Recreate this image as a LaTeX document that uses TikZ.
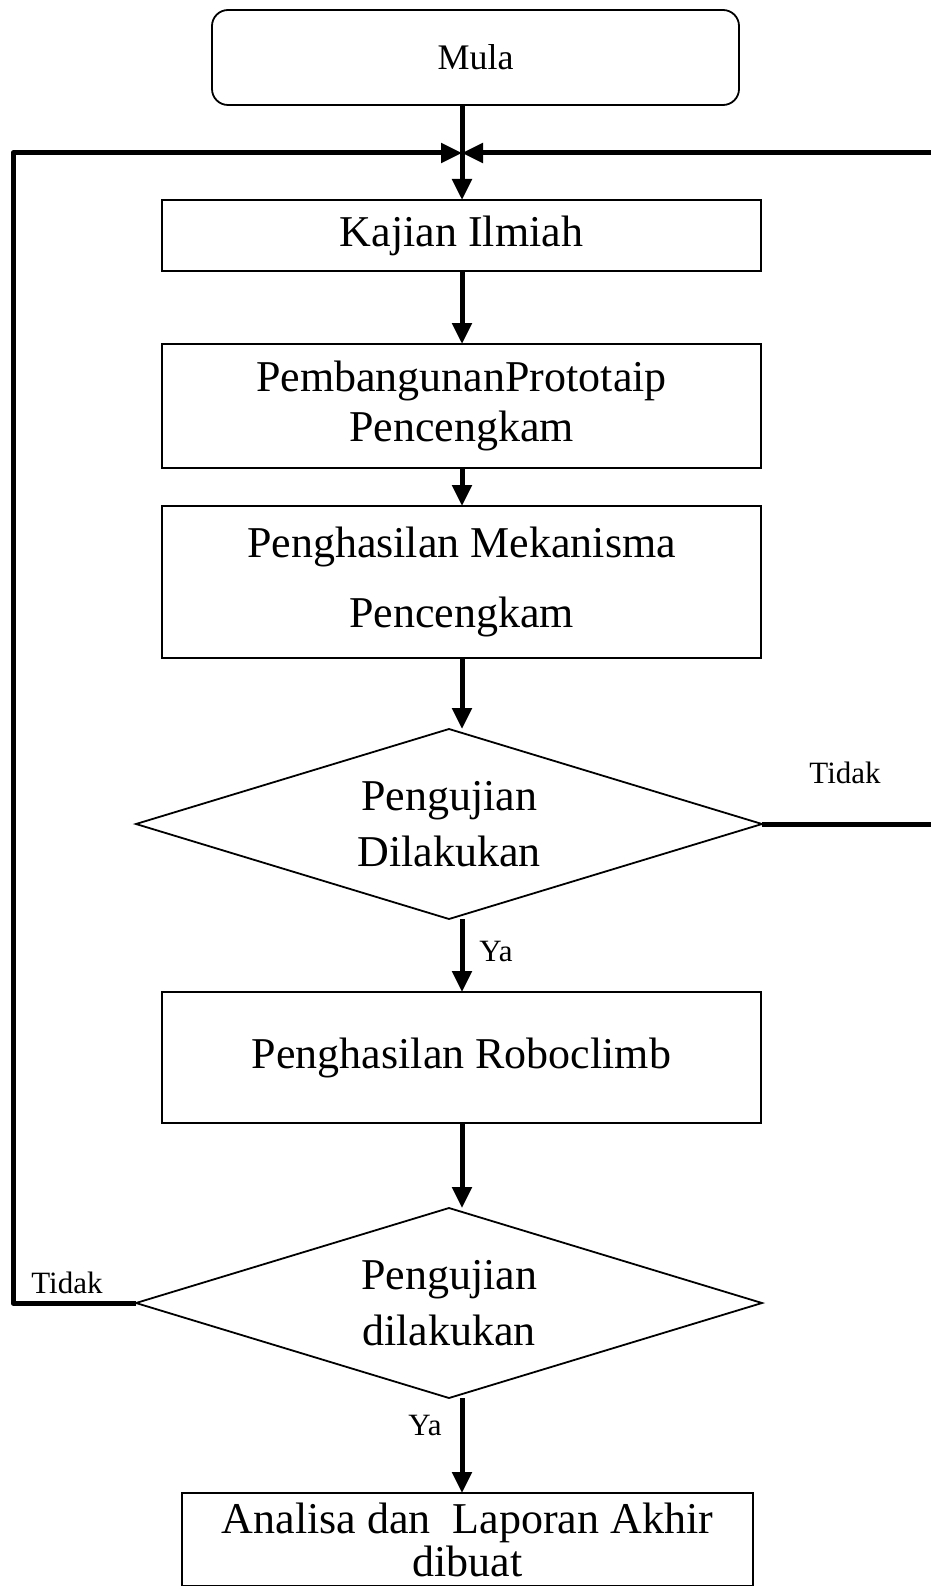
\documentclass[tikz,border=0pt]{standalone}
\usepackage{fontspec}
\setmainfont{Liberation Serif}
\usetikzlibrary{arrows.meta,shapes.geometric}
\begin{document}
\begin{tikzpicture}[x=1pt,y=-1pt,
  box/.style={draw,line width=1.8pt,inner sep=0pt,outer sep=0pt,align=center,font=\fontsize{44}{50}\selectfont},
  dec/.style={draw,diamond,line width=1.8pt,inner sep=0pt,outer sep=0pt,aspect=3.3,minimum width=626pt,minimum height=190pt,align=center,font=\fontsize{44}{56}\selectfont},
  conn/.style={line width=5pt,line join=round,-{Triangle[length=21pt,width=19pt]}},
  lbl/.style={font=\fontsize{31}{36}\selectfont,inner sep=0pt}]
\useasboundingbox (0,0) rectangle (930,1586);
\fill[white] (0,0) rectangle (930,1586);
\coordinate (j) at (462,153);
\coordinate (lc) at (13,153);
\coordinate (rc) at (945,153);
\node[box,rounded corners=16pt,minimum width=527pt,minimum height=95pt,font=\fontsize{36}{40}\selectfont] (mula) at (475.5,57.5) {Mula};
\node[box,minimum width=599pt,minimum height=71pt] (kajian) at (461.5,235.5) {Kajian Ilmiah};
\node[box,minimum width=599pt,minimum height=124pt] (proto) at (461.5,406) {PembangunanPrototaip\\Pencengkam};
\node[box,minimum width=599pt,minimum height=152pt,font=\fontsize{44}{70}\selectfont] (mek) at (461.5,582) {\raisebox{-5pt}{Penghasilan Mekanisma}\\\raisebox{-5pt}{Pencengkam}};
\node[dec] (uji1) at (449,824) {Pengujian\\Dilakukan};
\node[box,minimum width=599pt,minimum height=131pt] (robo) at (461.5,1057.5) {\raisebox{8pt}{Penghasilan Roboclimb}};
\node[dec] (uji2) at (449,1303) {Pengujian\\dilakukan};
\node[box,minimum width=571pt,minimum height=93pt,font=\fontsize{44}{43}\selectfont] (akhir) at (467.5,1539.5) {Analisa dan\ \ Laporan Akhir\\dibuat};
\node[lbl] (t1) at (845,773) {Tidak};
\node[lbl] (t2) at (67,1283) {Tidak};
\node[lbl] (y1) at (496,951) {Ya};
\node[lbl] (y2) at (425,1425) {Ya};
\draw[conn] (mula.south -| j) -- (kajian.north -| j);
\draw[conn] (uji2.west) -| (lc) -- (j);
\draw[conn] (uji1.east) -| (rc) -- (j);
\draw[conn] (kajian.south -| j) -- (proto.north -| j);
\draw[conn] (proto.south -| j) -- (mek.north -| j);
\draw[conn] (mek.south -| j) -- (uji1.north -| j);
\draw[conn] (uji1.south -| j) -- (robo.north -| j);
\draw[conn] (robo.south -| j) -- (uji2.north -| j);
\draw[conn] (uji2.south -| j) -- (akhir.north -| j);
\end{tikzpicture}
\end{document}
